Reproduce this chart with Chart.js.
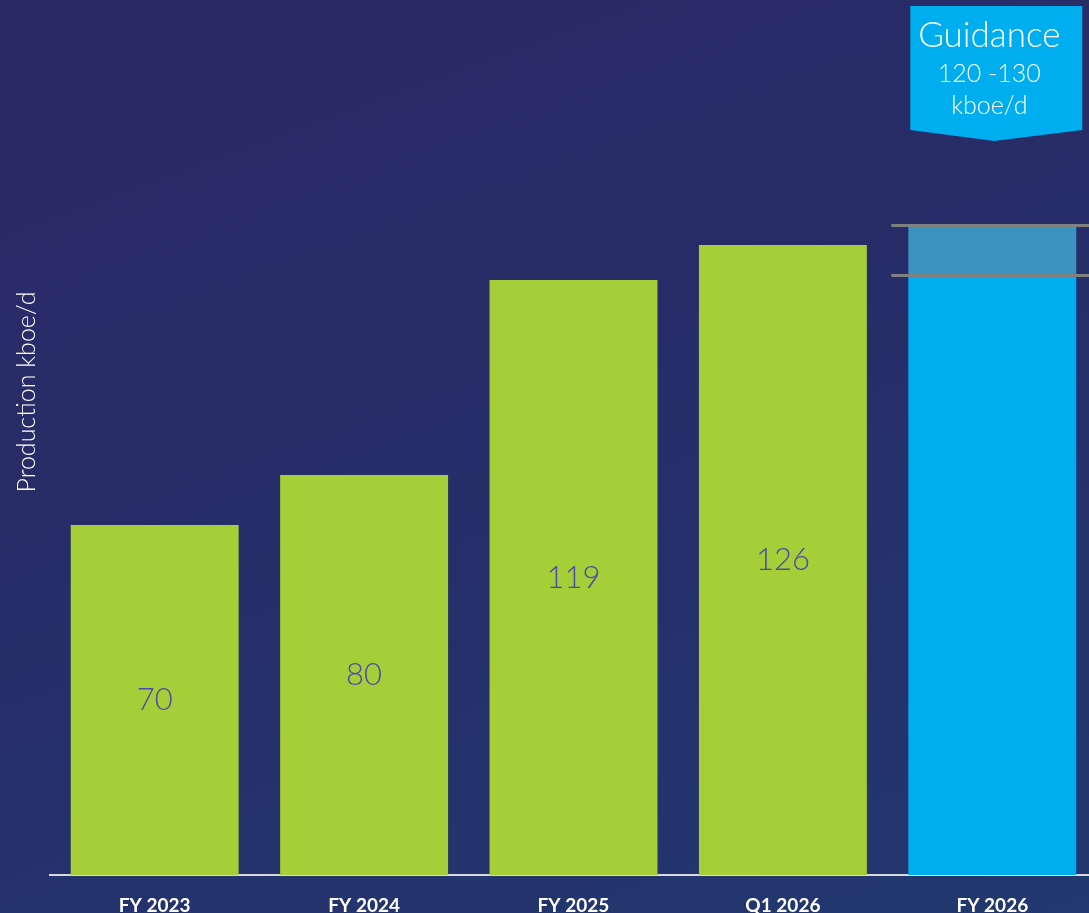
<!DOCTYPE html>
<html>
<head>
<meta charset="utf-8">
<script src="https://cdn.jsdelivr.net/npm/chart.js@4.4.1/dist/chart.umd.min.js"></script>
<style>
  html, body { margin: 0; padding: 0; overflow: hidden; }
  body {
    width: 1089px; height: 913px;
    background: linear-gradient(160deg, #292a66 0%, #272d68 45%, #22386f 100%);
  }
  #wrap { position: absolute; left: 0; top: 0; width: 1097px; height: 913px; }
</style>
</head>
<body>
<div id="wrap"><canvas id="chart" width="1097" height="913"></canvas></div>
<script>
// Production history and outlook (kboe/d)
const categories = ['FY 2023', 'FY 2024', 'FY 2025', 'Q1 2026', 'FY 2026'];
const production = [70, 80, 119, 126, 120];
const guidanceLow = 120;
const guidanceHigh = 130;
const valueLabels = ['70', '80', '119', '126', ''];
const axisTitle = 'Production kboe/d';
const guidanceText = ['Guidance', '120 -130', 'kboe/d'];

const GREEN = '#a6ce39';
const BLUE = '#00aeef';
const RANGE = '#3c93bf';
const LABEL = '#4b4aa8';

const barColors = production.map((v, i) => i === categories.length - 1 ? BLUE : GREEN);
const rangeData = categories.map((c, i) => i === categories.length - 1 ? [guidanceLow, guidanceHigh] : null);

// Value labels centred inside each bar
const barValues = {
  id: 'barValues',
  afterDatasetsDraw(chart) {
    const { ctx } = chart;
    const meta = chart.getDatasetMeta(0);
    ctx.save();
    ctx.fillStyle = LABEL;
    ctx.font = '300 31px Lato';
    ctx.textAlign = 'center';
    ctx.textBaseline = 'middle';
    meta.data.forEach((bar, i) => {
      if (!valueLabels[i]) return;
      ctx.fillText(valueLabels[i], bar.x, (bar.y + bar.base) / 2);
    });
    ctx.restore();
  }
};

// Guidance band limits and callout
const guidance = {
  id: 'guidance',
  afterDatasetsDraw(chart) {
    const { ctx } = chart;
    const y = chart.scales.y;
    const last = chart.getDatasetMeta(0).data[categories.length - 1];
    const cx = last.x;
    ctx.save();
    ctx.strokeStyle = '#808080';
    ctx.lineWidth = 3;
    [guidanceLow, guidanceHigh].forEach(v => {
      const py = Math.round(y.getPixelForValue(v)) + 0.5;
      ctx.beginPath();
      ctx.moveTo(cx - 101, py);
      ctx.lineTo(chart.width, py);
      ctx.stroke();
    });

    // callout box with pointer
    ctx.fillStyle = BLUE;
    ctx.beginPath();
    ctx.moveTo(cx - 82, 6);
    ctx.lineTo(cx + 90, 6);
    ctx.lineTo(cx + 90, 130);
    ctx.lineTo(cx + 2, 141);
    ctx.lineTo(cx - 82, 130);
    ctx.closePath();
    ctx.fill();

    ctx.fillStyle = '#ffffff';
    ctx.textAlign = 'center';
    ctx.textBaseline = 'alphabetic';
    const tx = cx - 3;
    ctx.font = '300 35px Lato';
    ctx.fillText(guidanceText[0], tx, 47);
    ctx.font = '300 25px Lato';
    ctx.fillText(guidanceText[1], tx, 82);
    ctx.fillText(guidanceText[2], tx, 114);
    ctx.restore();
  }
};

// Rotated y-axis title
const yTitle = {
  id: 'yTitle',
  afterDraw(chart) {
    const { ctx } = chart;
    ctx.save();
    ctx.translate(27, 392);
    ctx.rotate(-Math.PI / 2);
    ctx.fillStyle = '#ffffff';
    ctx.font = '300 25px Lato';
    ctx.textAlign = 'center';
    ctx.textBaseline = 'middle';
    ctx.fillText(axisTitle, 0, 0);
    ctx.restore();
  }
};

new Chart(document.getElementById('chart'), {
  type: 'bar',
  data: {
    labels: categories,
    datasets: [
      {
        label: 'Production',
        data: production,
        backgroundColor: barColors,
        borderWidth: 0,
        order: 2
      },
      {
        label: 'Guidance range',
        data: rangeData,
        backgroundColor: RANGE,
        borderWidth: 0,
        order: 1
      }
    ]
  },
  options: {
    responsive: false,
    devicePixelRatio: 1,
    animation: false,
    grouped: false,
    categoryPercentage: 1,
    barPercentage: 0.802,
    layout: { padding: 0 },
    plugins: {
      legend: { display: false },
      tooltip: { enabled: false },
      title: { display: false }
    },
    scales: {
      x: {
        grid: { display: false, drawTicks: false },
        border: { display: true, color: 'rgba(235,235,240,0.9)', width: 2 },
        ticks: {
          color: '#ffffff',
          font: { family: 'Lato', size: 19, weight: '700' },
          padding: 19
        },
        afterFit(scale) { scale.height = 38; }
      },
      y: {
        min: 0,
        max: 175,
        grid: { display: false, drawTicks: false },
        border: { display: false },
        ticks: { display: false },
        afterFit(scale) { scale.width = 50; }
      }
    }
  },
  plugins: [barValues, guidance, yTitle]
});
</script>
</body>
</html>
